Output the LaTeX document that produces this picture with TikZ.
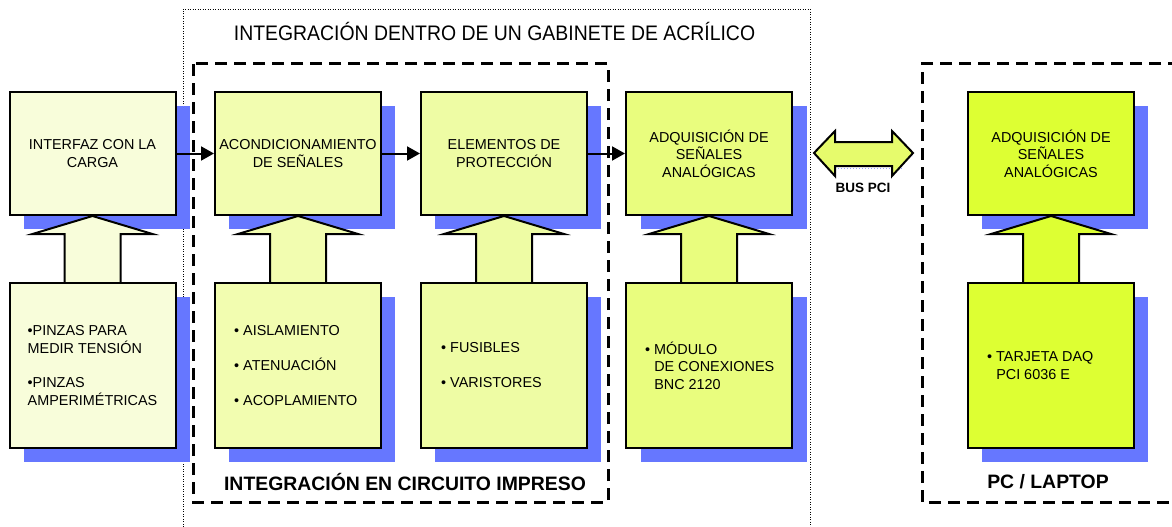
\documentclass[tikz,border=0pt]{standalone}
\usepackage{fontspec}
\setmainfont{Liberation Sans}
\usetikzlibrary{arrows.meta,calc}
\definecolor{shd}{HTML}{6677FF}
\definecolor{fa}{HTML}{F8FDDA}
\definecolor{fb}{HTML}{F2FDB0}
\definecolor{fc}{HTML}{EEFCA4}
\definecolor{fd}{HTML}{E9FD7E}
\definecolor{fe}{HTML}{DDFF33}
\definecolor{fbus}{HTML}{E6FB6C}
\tikzset{
  boxbase/.style={draw=black, line width=2pt, inner sep=0pt, align=center,
    font=\fontsize{14.4}{17.5}\selectfont},
  topbox/.style={boxbase, minimum width=166pt, minimum height=123pt},
  botbox/.style={boxbase, minimum width=166pt, minimum height=165pt},
  shadowrect/.style={fill=shd},
  btext/.style={inner sep=0pt, anchor=west, align=left, font=\fontsize{14.4}{18}\selectfont},
  harrow/.style={line width=2pt, -{Triangle[length=13pt,width=14pt]}},
  blockarrow/.style={draw=black, line width=2pt, line join=miter},
  pcbframe/.style={line width=3pt, dash pattern=on 12pt off 7pt},
  cabframe/.style={line width=0.8pt, dash pattern=on 1pt off 1.5pt},
  boldlabel/.style={font=\fontsize{19.4}{22}\selectfont\bfseries, inner sep=0pt}
}
\begin{document}
\begin{tikzpicture}[x=1pt,y=-1pt]
\useasboundingbox (0,0) rectangle (1172,527);
% frames
\draw[cabframe] (183,527) -- (183,9) -- (810,9) -- (810,527);
\node[inner sep=0pt] (cabtitle) at (494.5,31) {\scalebox{0.925}[1]{\fontsize{21}{24}\selectfont INTEGRACIÓN DENTRO DE UN GABINETE DE ACRÍLICO}};
\draw[pcbframe] (193,64) rectangle (608,502);
\node[boldlabel] (pcbtitle) at (405,482) {INTEGRACIÓN EN CIRCUITO IMPRESO};
\draw[pcbframe] (1180,64) -- (922,64) -- (922,502) -- (1180,502);
\node[boldlabel] (pctitle) at (1048,482) {PC / LAPTOP};
% top shadows
\foreach \x in {10,215,421,627,968} {
  \fill[shadowrect] (\x+14,92+14) rectangle (\x+166+14,215+14);
}
% top boxes
\node[topbox, fill=fa] (t1) at (92.5,153.5) {INTERFAZ CON LA\\CARGA};
\node[topbox, fill=fb] (t2) at (298,153.5) {ACONDICIONAMIENTO\\DE SEÑALES};
\node[topbox, fill=fc] (t3) at (504,153.5) {ELEMENTOS DE\\PROTECCIÓN};
\node[topbox, fill=fd] (t4) at (709,153.5) {ADQUISICIÓN DE\\SEÑALES\\ANALÓGICAS};
\node[topbox, fill=fe] (t5) at (1051,153.5) {ADQUISICIÓN DE\\SEÑALES\\ANALÓGICAS};
% block arrows
\foreach \n/\c in {t1/fa,t2/fb,t3/fc,t4/fd,t5/fe} {
  \fill[shd, shift={(14,14)}] (\n.south) -- ++(-60,18) -- ++(32,0) -- ++(0,50) -- ++(56,0) -- ++(0,-50) -- ++(32,0) -- cycle;
  \filldraw[blockarrow, fill=\c] (\n.south) -- ++(-60,18) -- ++(32,0) -- ++(0,50) -- ++(56,0) -- ++(0,-50) -- ++(32,0) -- cycle;
}
% bottom shadows
\foreach \x in {10,215,421,627,968} {
  \fill[shadowrect] (\x+14,283+14) rectangle (\x+166+14,448+14);
}
% bottom boxes
\node[botbox, fill=fa] (b1) at (92.5,365.5) {};
\node[botbox, fill=fb] (b2) at (298,365.5) {};
\node[botbox, fill=fc] (b3) at (504,365.5) {};
\node[botbox, fill=fd] (b4) at (709,365.5) {};
\node[botbox, fill=fe] (b5) at (1051,365.5) {};
\node[btext] (x1) at ([xshift=19pt]b1.west) {•PINZAS PARA\\MEDIR TENSIÓN\\[16pt]•PINZAS\\AMPERIMÉTRICAS};
\node[btext] (x2) at ([xshift=20pt]b2.west) {• AISLAMIENTO\\[17pt]• ATENUACIÓN\\[17pt]• ACOPLAMIENTO};
\node[btext] (x3) at ([xshift=21pt]b3.west) {• FUSIBLES\\[17pt]• VARISTORES};
\node[btext, font=\fontsize{14.4}{17.5}\selectfont] (x4) at ([xshift=20pt]b4.west) {• MÓDULO\\\phantom{• }DE CONEXIONES\\\phantom{• }BNC 2120};
\node[btext] (x5) at ([xshift=20pt]b5.west) {• TARJETA DAQ\\\phantom{• }PCI 6036 E};
% horizontal arrows
\draw[harrow] (t1) -- (t2);
\draw[harrow] (t2) -- (t3);
\draw[harrow] (t3) -- (t4);
% bus arrow
\draw[shd!70, line width=1pt, dash pattern=on 1pt off 2pt] (838,168) -- (902,168);
\draw[shd!70, line width=1pt, dash pattern=on 1pt off 2pt] (896,165) -- (912,156);
\filldraw[draw=black, line width=2pt, fill=fbus, line join=miter]
  (814,153) -- (835,131) -- (835,142) -- (892,142) -- (892,131) -- (913,153)
  -- (892,176) -- (892,166) -- (835,166) -- (835,176) -- cycle;
\node[inner sep=0pt, font=\fontsize{13.5}{16}\selectfont\bfseries] (bus) at (863,188) {BUS PCI};
\end{tikzpicture}
\end{document}
